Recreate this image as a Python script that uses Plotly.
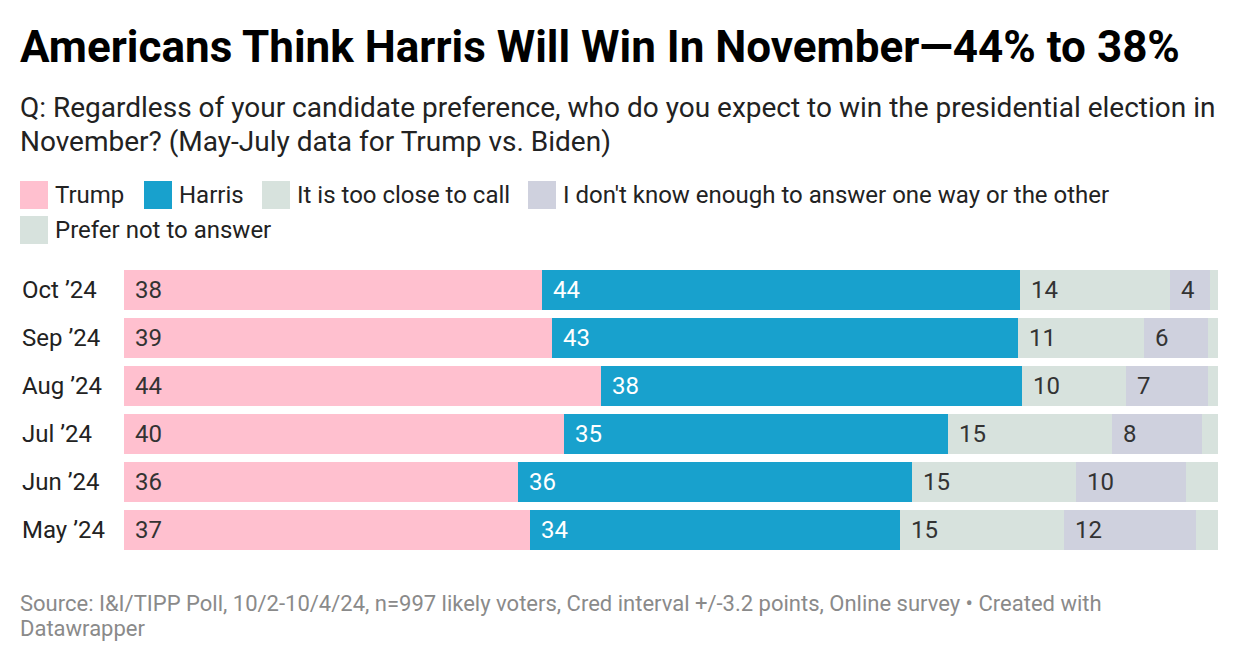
import plotly.graph_objects as go

# ---- data ----
months = ["Oct ’24", "Sep ’24", "Aug ’24", "Jul ’24", "Jun ’24", "May ’24"]
trump = [38.2, 39.1, 43.6, 40.2, 36.0, 37.1]
harris = [43.7, 42.6, 38.5, 35.1, 36.0, 33.8]
too_close = [13.7, 11.5, 9.5, 15.0, 15.0, 15.0]
dont_know = [3.7, 5.9, 7.5, 8.2, 10.1, 12.1]
prefer_not = [0.7, 0.9, 0.9, 1.5, 2.9, 2.0]
trump_lbl = [38, 39, 44, 40, 36, 37]
harris_lbl = [44, 43, 38, 35, 36, 34]
close_lbl = [14, 11, 10, 15, 15, 15]
dk_lbl = [4, 6, 7, 8, 10, 12]

series = [
    ("Trump", trump, trump_lbl, "#FFC0CF", "#333333"),
    ("Harris", harris, harris_lbl, "#18A1CD", "#FFFFFF"),
    ("It is too close to call", too_close, close_lbl, "#D7E2DD", "#333333"),
    ("I don't know enough to answer one way or the other", dont_know, dk_lbl, "#CFD1DE", "#333333"),
    ("Prefer not to answer", prefer_not, None, "#D7E2DD", "#333333"),
]

OFF = 8  # page body margin
W, H = 1240 - OFF, 664 - OFF
# plot area in page pixel coordinates
PL, PR, PT, PB = 124, 1218, 266, 554
FONT = "Roboto"


def px(x):
    return (x - PL) / (PR - PL)


def py(y):
    return (PB - y) / (PB - PT)


fig = go.Figure()
base = [0.0] * len(months)
annotations = []
for name, vals, lbls, color, tcolor in series:
    fig.add_trace(go.Bar(
        y=months, x=vals, orientation="h", name=name,
        marker=dict(color=color, line=dict(width=0)),
        hoverinfo="skip", showlegend=False,
    ))
    if lbls is not None:
        for m, b, l in zip(months, base, lbls):
            annotations.append(dict(
                x=b, y=m, xref="x", yref="y", text=str(l), showarrow=False,
                xanchor="left", yanchor="middle", xshift=9,
                font=dict(family=FONT, size=24, color=tcolor),
            ))
    base = [b + v for b, v in zip(base, vals)]

# category labels (left-aligned)
for m in months:
    annotations.append(dict(
        x=px(20), y=m, xref="paper", yref="y", text=m, showarrow=False,
        xanchor="left", yanchor="middle",
        font=dict(family=FONT, size=24, color="#222222"),
    ))

# title / subtitle / footer
annotations.append(dict(
    x=px(18), y=py(47), xref="paper", yref="paper", showarrow=False,
    text="<b>Americans Think Harris Will Win In November—44% to 38%</b>",
    xanchor="left", yanchor="middle",
    font=dict(family=FONT, size=44, color="#000000"),
))
annotations.append(dict(
    x=px(18), y=py(107), xref="paper", yref="paper", showarrow=False,
    text="Q: Regardless of your candidate preference, who do you expect to win the presidential election in",
    xanchor="left", yanchor="middle",
    font=dict(family=FONT, size=28, color="#222222"),
))
annotations.append(dict(
    x=px(18), y=py(141), xref="paper", yref="paper", showarrow=False,
    text="November? (May-July data for Trump vs. Biden)",
    xanchor="left", yanchor="middle",
    font=dict(family=FONT, size=28, color="#222222"),
))
annotations.append(dict(
    x=px(18), y=py(603), xref="paper", yref="paper", showarrow=False,
    text="Source: I&amp;I/TIPP Poll, 10/2-10/4/24, n=997 likely voters, Cred interval +/-3.2 points, Online survey • Created with",
    xanchor="left", yanchor="middle",
    font=dict(family=FONT, size=22, color="#8a8a8a"),
))
annotations.append(dict(
    x=px(18), y=py(628), xref="paper", yref="paper", showarrow=False,
    text="Datawrapper",
    xanchor="left", yanchor="middle",
    font=dict(family=FONT, size=22, color="#8a8a8a"),
))

# custom legend
legend_pos = [(20, 195), (144, 195), (262, 195), (528, 195), (20, 230)]
shapes = []
for (name, vals, lbls, color, tcolor), (lx, ly) in zip(series, legend_pos):
    shapes.append(dict(
        type="rect", xref="paper", yref="paper",
        x0=px(lx), x1=px(lx + 28), y0=py(ly - 14), y1=py(ly + 14),
        fillcolor=color, line=dict(width=0), layer="above",
    ))
    annotations.append(dict(
        x=px(lx + 33), y=py(ly), xref="paper", yref="paper", text=name,
        showarrow=False, xanchor="left", yanchor="middle",
        font=dict(family=FONT, size=24, color="#222222"),
    ))

fig.update_layout(
    width=W, height=H,
    margin=dict(l=PL - OFF, r=W - (PR - OFF), t=PT - OFF, b=H - (PB - OFF), pad=0),
    barmode="stack", bargap=8 / 48,
    plot_bgcolor="white", paper_bgcolor="white",
    xaxis=dict(range=[0, 100], visible=False, fixedrange=True),
    yaxis=dict(autorange="reversed", showticklabels=False, showgrid=False,
               zeroline=False, showline=False, ticks="", fixedrange=True),
    annotations=annotations, shapes=shapes,
    showlegend=False,
    font=dict(family=FONT),
)

fig.write_html("out.html", config={"displayModeBar": False})
